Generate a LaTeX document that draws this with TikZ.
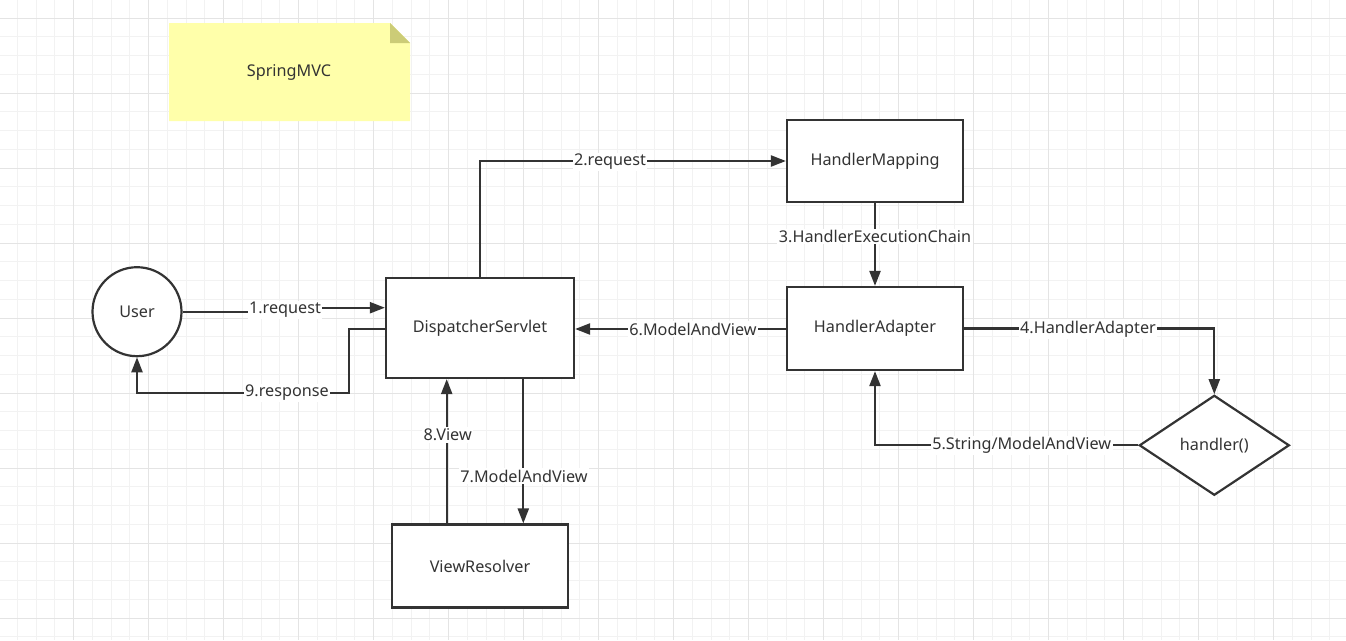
\documentclass[tikz,border=0pt]{standalone}
\usepackage{fontspec}
\setmainfont{Noto Sans}
\usetikzlibrary{shapes.geometric,arrows.meta}
\definecolor{ink}{HTML}{333333}
\definecolor{gmin}{HTML}{F2F2F2}
\definecolor{gmaj}{HTML}{E4E4E4}
\definecolor{notey}{HTML}{FFFFAA}
\definecolor{notef}{HTML}{CCCC77}
\begin{document}
\begin{tikzpicture}[x=1pt,y=-1pt,
  txt/.style={text=ink,font=\fontsize{16.2}{18}\selectfont},
  box/.style={txt,draw=ink,line width=2.2pt,fill=white,rectangle,inner sep=0pt,minimum width=176pt,minimum height=82pt},
  flow/.style={draw=ink,line width=2.2pt,-{Triangle[length=15pt,width=11pt]}},
  lbl/.style={txt,fill=white,inner sep=1.5pt}
]
\useasboundingbox (0,0) rectangle (1346,640);
\fill[white] (0,0) rectangle (1346,640);
% grid
\foreach \i in {0,...,72} {
  \pgfmathsetmacro\gx{-1.5+18.75*\i}
  \draw[gmin,line width=1pt] (\gx,0) -- (\gx,640);
}
\foreach \i in {0,...,35} {
  \pgfmathsetmacro\gy{-0.75+18.75*\i}
  \draw[gmin,line width=1pt] (0,\gy) -- (1346,\gy);
}
\foreach \i in {0,...,18} {
  \pgfmathsetmacro\gx{-1.5+75*\i}
  \draw[gmaj,line width=1pt] (\gx,0) -- (\gx,640);
}
\foreach \i in {0,...,8} {
  \pgfmathsetmacro\gy{18+75*\i}
  \draw[gmaj,line width=1pt] (0,\gy) -- (1346,\gy);
}
% note
\fill[notey] (169,23) -- (390,23) -- (410,43) -- (410,121) -- (169,121) -- cycle;
\fill[notef] (390,23) -- (410,43) -- (390,43) -- cycle;
\node[txt] (note) at (289,72) {SpringMVC};

% nodes
\node[txt,circle,draw=ink,line width=2.2pt,fill=white,minimum size=89pt,inner sep=0pt] (user) at (137,311.7) {User};
\node[box,minimum width=188pt,minimum height=100pt] (ds) at (480,328) {DispatcherServlet};
\node[box] (hm) at (875,161) {HandlerMapping};
\node[box,minimum height=83pt] (ha) at (875,328.5) {HandlerAdapter};
\node[box,minimum height=83pt] (vr) at (480,566) {ViewResolver};
\node[txt,diamond,draw=ink,line width=2.2pt,fill=white,inner sep=0pt,aspect=1.5,minimum width=150pt,minimum height=100pt] (hd) at (1214.3,445.3) {handler()};

% connectors
\draw[flow] (user.east) -- (285,311.7) -- (285,307.7) -- (ds.west |- 0,307.7);
\draw[flow] (ds.north) |- (hm.west);
\draw[flow] (hm.south) -- (ha.north);
\draw[flow] (ha.east) -| (hd.north);
\draw[flow] (hd.west) -| (ha.south);
\draw[flow] ([yshift=-0.5pt]ha.west) -- ([yshift=-0.5pt]ha.west -| ds.east);
\draw[flow] ([xshift=43.3pt]ds.south) -- ([xshift=43.3pt]ds.south |- vr.north);
\draw[flow] ([xshift=-33.3pt]vr.north) -- ([xshift=-33.3pt]vr.north |- ds.south);
\draw[flow] ([yshift=-1pt]ds.west) -- (349,329) -- (349,392.7) -- (user.south |- 0,392.7) -- (user.south);

% labels
\node[lbl] (l1) at (285,310) {1.request};
\node[lbl] (l2) at (610,162) {2.request};
\node[lbl] (l3) at (875,236.7) {3.HandlerExecutionChain};
\node[lbl] (l4) at (1088,329) {4.HandlerAdapter};
\node[lbl] (l5) at (1021.7,445.3) {5.String/ModelAndView};
\node[lbl] (l6) at (693,329) {6.ModelAndView};
\node[lbl] (l7) at (524,476) {7.ModelAndView};
\node[lbl] (l8) at (447.7,435) {8.View};
\node[lbl] (l9) at (287,393) {9.response};
\end{tikzpicture}
\end{document}
